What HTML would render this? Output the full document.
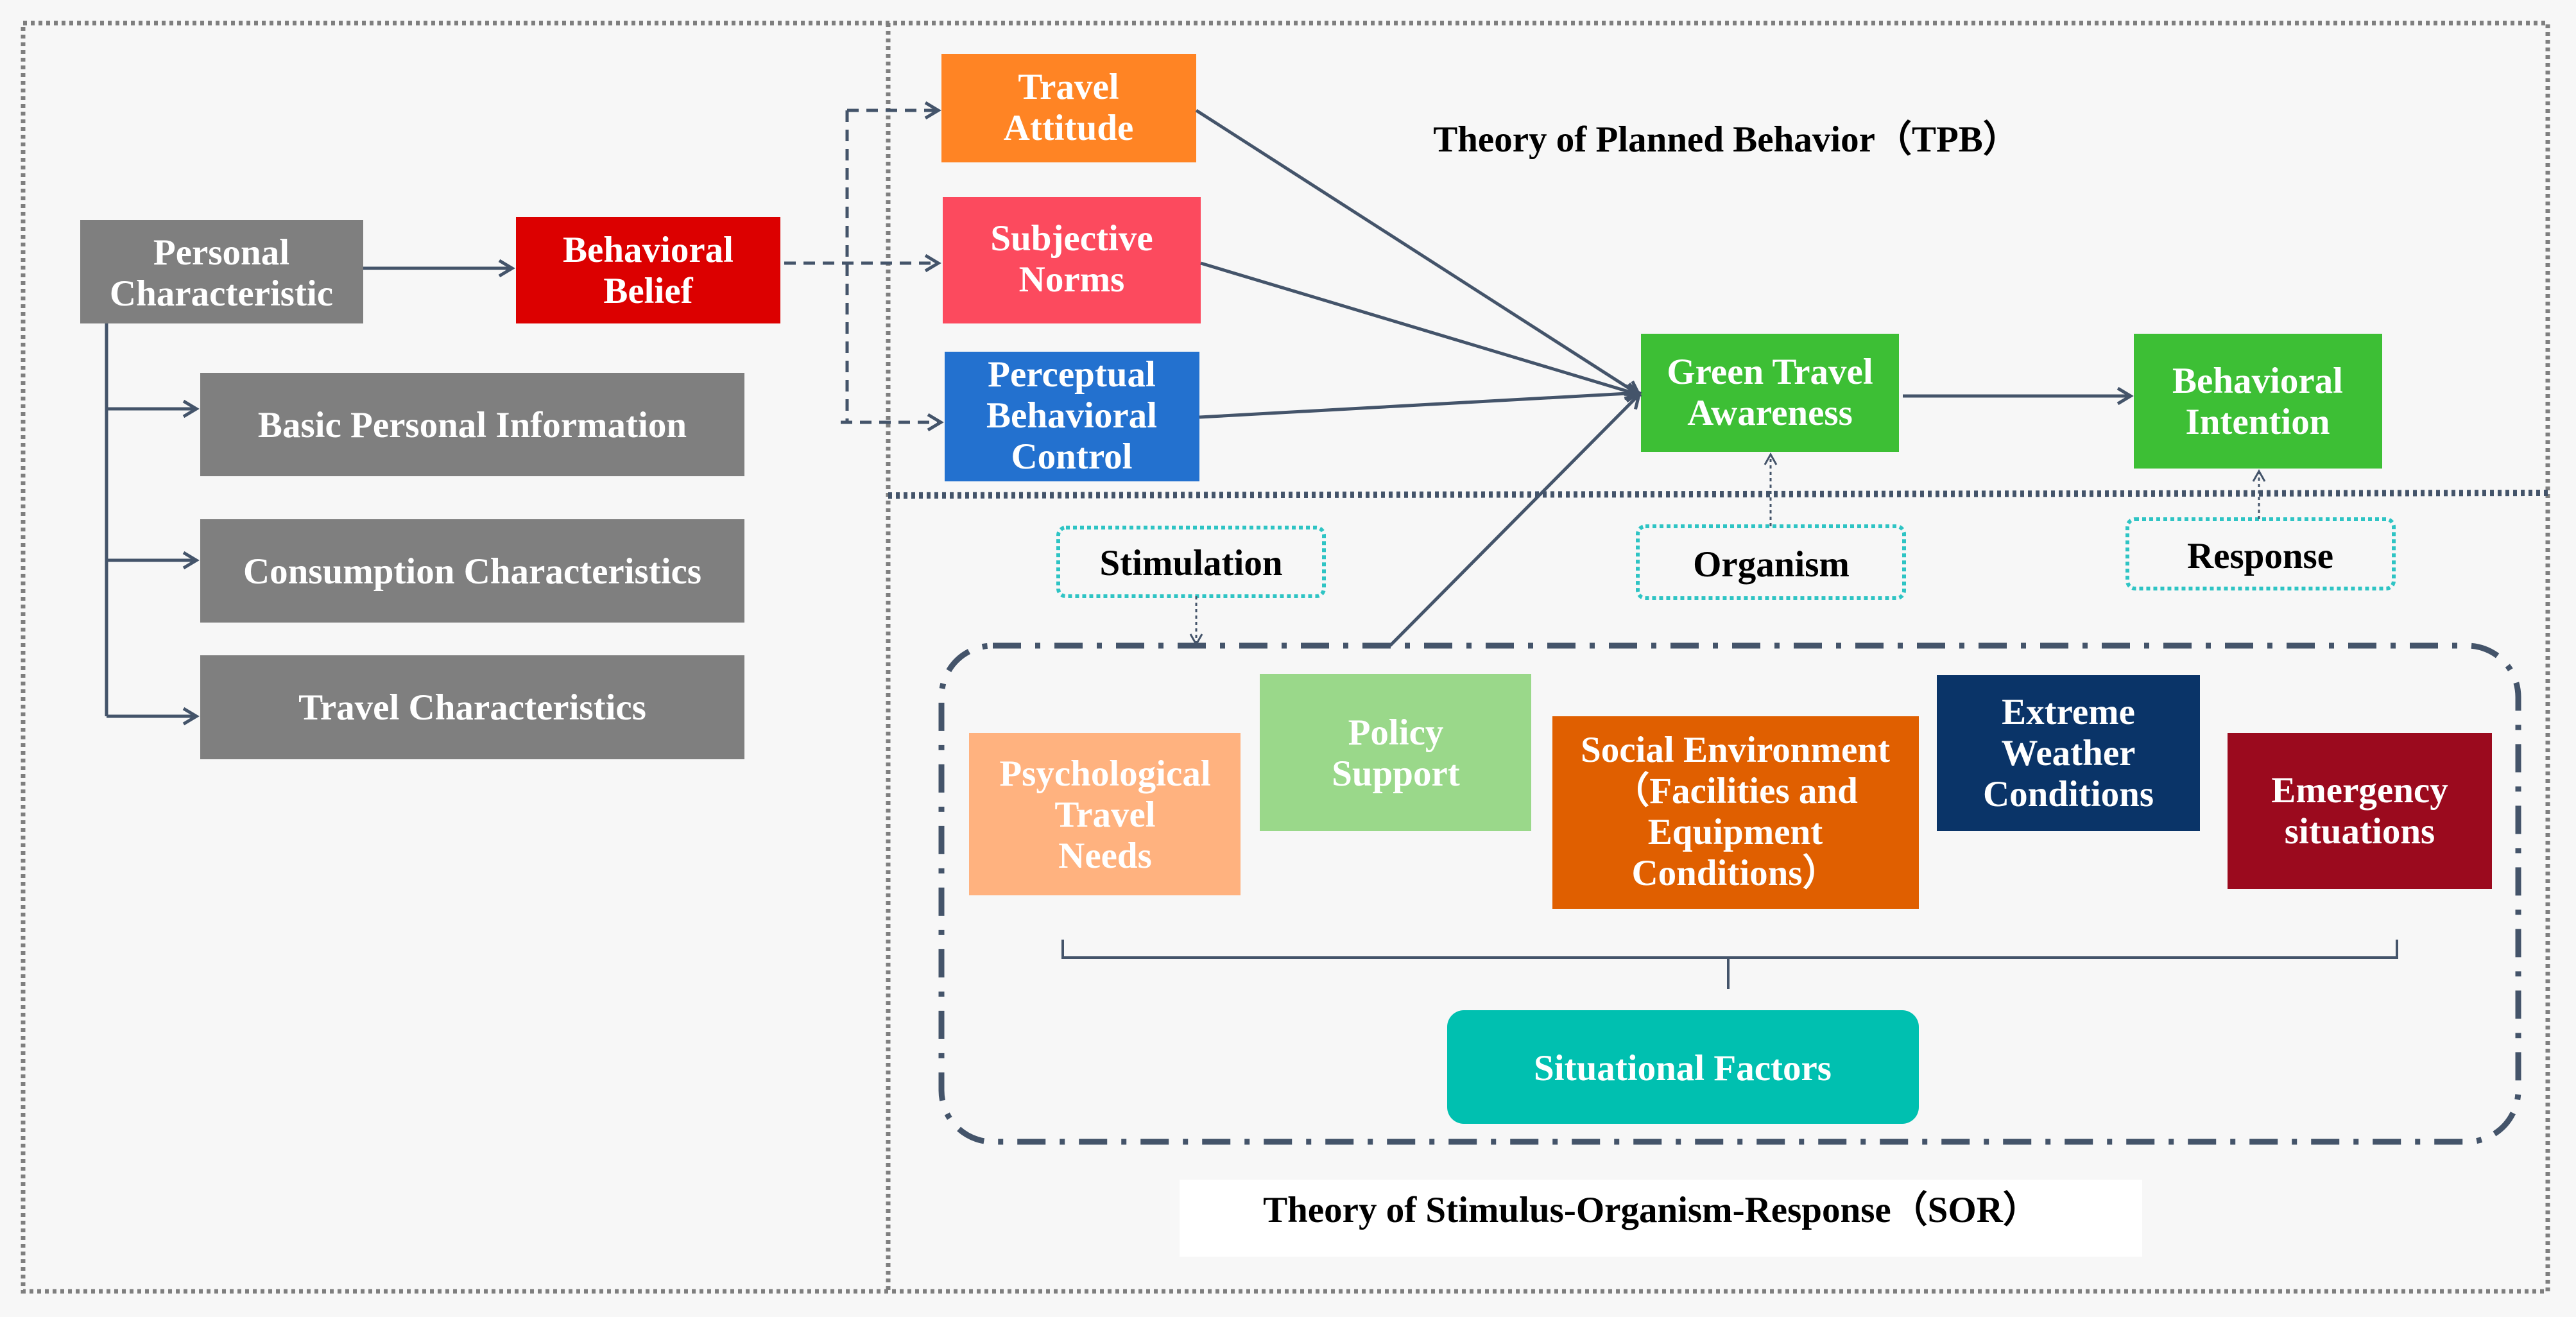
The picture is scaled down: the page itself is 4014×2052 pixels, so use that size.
<!DOCTYPE html>
<html><head><meta charset="utf-8"><style>html,body{margin:0;padding:0;background:#f7f7f7}svg{display:block}</style></head>
<body>
<svg width="4014" height="2052" viewBox="0 0 4014 2052" xmlns="http://www.w3.org/2000/svg" font-family="'Liberation Serif', serif" font-weight="bold">
<defs>
<marker id="a" markerWidth="30" markerHeight="30" refX="24" refY="15" orient="auto" markerUnits="userSpaceOnUse"><path d="M4,3 L24,15 L4,27" fill="none" stroke="#44546a" stroke-width="5"/></marker>
<marker id="s" markerWidth="24" markerHeight="24" refX="20" refY="12" orient="auto" markerUnits="userSpaceOnUse"><path d="M4,3 L20,12 L4,21" fill="none" stroke="#44546a" stroke-width="3"/></marker>
</defs>
<rect width="4014" height="2052" fill="#f7f7f7"/>
<!-- frames -->
<rect x="36" y="36" width="3934" height="1976" fill="none" stroke="#7f7f7f" stroke-width="7" stroke-dasharray="6 6"/>
<line x1="1384" y1="36" x2="1384" y2="2012" stroke="#7f7f7f" stroke-width="7" stroke-dasharray="6 6"/>
<line x1="1384" y1="772" x2="3970" y2="768" stroke="#44546a" stroke-width="10" stroke-dasharray="6 6"/>
<rect x="1838" y="1838" width="1500" height="120" fill="#fff"/>

<g fill="#fff" font-size="57" text-anchor="middle">
<!-- left -->
<rect x="125" y="343" width="441" height="161" fill="#7f7f7f"/>
<text x="345" y="412">Personal</text><text x="345" y="476">Characteristic</text>
<rect x="804" y="338" width="412" height="166" fill="#dc0000"/>
<text x="1010" y="408">Behavioral</text><text x="1010" y="472">Belief</text>
<rect x="312" y="581" width="848" height="161" fill="#7f7f7f"/>
<text x="736" y="681">Basic Personal Information</text>
<rect x="312" y="809" width="848" height="161" fill="#7f7f7f"/>
<text x="736" y="909">Consumption Characteristics</text>
<rect x="312" y="1021" width="848" height="162" fill="#7f7f7f"/>
<text x="736" y="1121">Travel Characteristics</text>
<!-- TPB -->
<rect x="1467" y="84" width="397" height="169" fill="#ff8424"/>
<text x="1665" y="154">Travel</text><text x="1665" y="218">Attitude</text>
<rect x="1469" y="307" width="402" height="197" fill="#fc4a5e"/>
<text x="1670" y="390">Subjective</text><text x="1670" y="454">Norms</text>
<rect x="1472" y="548" width="397" height="202" fill="#2371cf"/>
<text x="1670" y="602">Perceptual</text><text x="1670" y="666">Behavioral</text><text x="1670" y="730">Control</text>
<rect x="2557" y="520" width="402" height="184" fill="#3dbf35"/>
<text x="2758" y="598">Green Travel</text><text x="2758" y="662">Awareness</text>
<rect x="3325" y="520" width="387" height="210" fill="#3dbf35"/>
<text x="3518" y="612">Behavioral</text><text x="3518" y="676">Intention</text>
<!-- SOR boxes -->
<rect x="1510" y="1142" width="423" height="253" fill="#ffb27f"/>
<text x="1722" y="1224">Psychological</text><text x="1722" y="1288">Travel</text><text x="1722" y="1352">Needs</text>
<rect x="1963" y="1050" width="423" height="245" fill="#9ad88a"/>
<text x="2175" y="1160">Policy</text><text x="2175" y="1224">Support</text>
<rect x="2419" y="1116" width="571" height="300" fill="#e05f00"/>
<text x="2704" y="1187">Social Environment</text><text x="2704" y="1251">（Facilities and</text><text x="2704" y="1315">Equipment</text><text x="2704" y="1379">Conditions）</text>
<rect x="3018" y="1052" width="410" height="243" fill="#0a3468"/>
<text x="3223" y="1128">Extreme</text><text x="3223" y="1192">Weather</text><text x="3223" y="1256">Conditions</text>
<rect x="3471" y="1142" width="412" height="243" fill="#9b0a1e"/>
<text x="3677" y="1250">Emergency</text><text x="3677" y="1314">situations</text>
<rect x="2255" y="1574" width="735" height="177" rx="26" fill="#00c0b0"/>
<text x="2622" y="1683">Situational Factors</text>
</g>

<!-- titles and labels -->
<g fill="#000" text-anchor="middle">
<text x="2690" y="236" font-size="57">Theory of Planned Behavior（TPB）</text>
<text x="2573" y="1904" font-size="57">Theory of Stimulus-Organism-Response（SOR）</text>
</g>
<g fill="none" stroke="#2ec4c4" stroke-width="6" stroke-dasharray="6 5">
<rect x="1649" y="822" width="414" height="107" rx="12"/>
<rect x="2552" y="820" width="415" height="112" rx="12"/>
<rect x="3315" y="809" width="415" height="108" rx="12"/>
</g>
<g fill="#000" font-size="57" text-anchor="middle">
<text x="1856" y="896">Stimulation</text>
<text x="2760" y="898">Organism</text>
<text x="3522" y="885">Response</text>
</g>

<!-- connectors -->
<g stroke="#44546a" stroke-width="5" fill="none">
<line x1="566" y1="418" x2="798" y2="418" marker-end="url(#a)"/>
<polyline points="166,504 166,1116"/>
<line x1="166" y1="637" x2="306" y2="637" marker-end="url(#a)"/>
<line x1="166" y1="873" x2="306" y2="873" marker-end="url(#a)"/>
<line x1="166" y1="1116" x2="306" y2="1116" marker-end="url(#a)"/>
<g stroke-dasharray="18 12">
<line x1="1222" y1="410" x2="1462" y2="410" marker-end="url(#a)"/>
<polyline points="1320,172 1320,658"/>
<line x1="1320" y1="172" x2="1462" y2="172" marker-end="url(#a)"/>
<line x1="1310" y1="658" x2="1466" y2="658" marker-end="url(#a)"/>
</g>
<line x1="1864" y1="172" x2="2554" y2="615" marker-end="url(#a)"/>
<line x1="1871" y1="410" x2="2554" y2="615" marker-end="url(#a)"/>
<line x1="1869" y1="650" x2="2554" y2="612" marker-end="url(#a)"/>
<line x1="2166" y1="1006" x2="2554" y2="615" marker-end="url(#a)"/>
<line x1="2965" y1="617" x2="3320" y2="617" marker-end="url(#a)"/>
<g stroke-width="3" stroke-dasharray="5 5">
<line x1="1864" y1="929" x2="1864" y2="1004" marker-end="url(#s)"/>
<line x1="2759" y1="820" x2="2759" y2="708" marker-end="url(#s)"/>
<line x1="3520" y1="809" x2="3520" y2="734" marker-end="url(#s)"/>
</g>
<rect x="1467" y="1006" width="2457" height="773" rx="80" stroke-width="9" stroke-dasharray="44 22 8 22"/>
<polyline points="1656,1464 1656,1492 3735,1492 3735,1464" stroke-width="4"/>
<line x1="2693" y1="1492" x2="2693" y2="1541" stroke-width="4"/>
</g>
</svg>
</body></html>
